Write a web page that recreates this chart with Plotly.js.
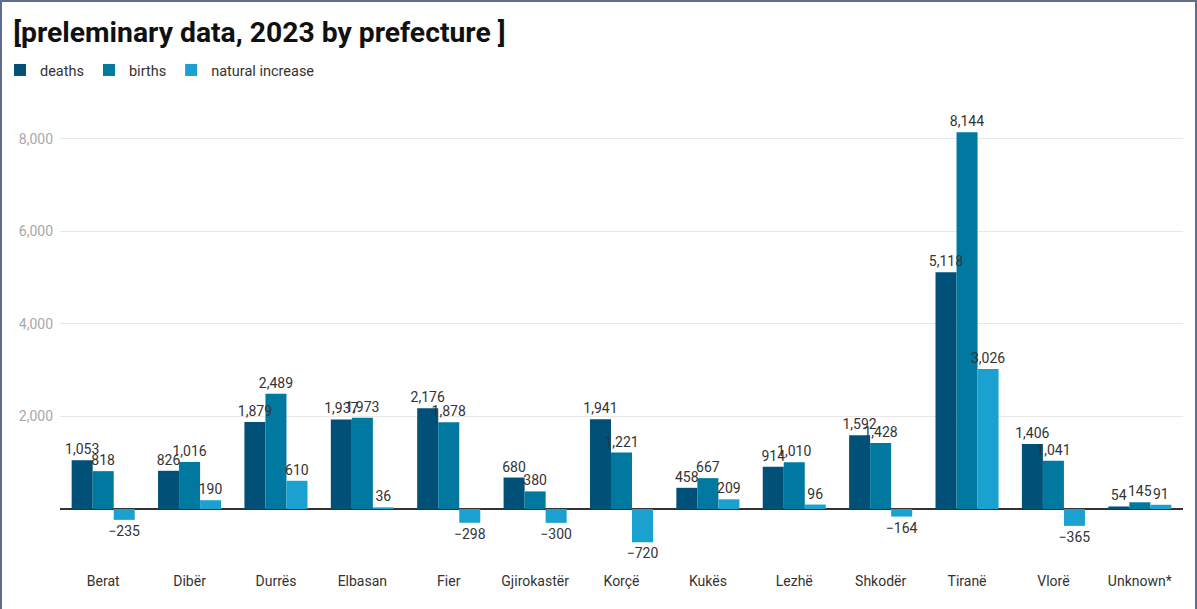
<!DOCTYPE html>
<html>
<head>
<meta charset="utf-8">
<script src="https://cdn.plot.ly/plotly-3.0.1.min.js"></script>
<style>
html,body{margin:0;padding:0;background:#fff;}
#frame{position:absolute;left:0;top:0;width:1197px;height:609px;box-sizing:border-box;border:2px solid #5d6d8a;border-bottom:none;}
#chart{position:absolute;left:0;top:0;width:1197px;height:609px;}
</style>
</head>
<body>
<div id="chart"></div>
<div id="frame"></div>
<script>
const categories = ["Berat","Dibër","Durrës","Elbasan","Fier","Gjirokastër","Korçë","Kukës","Lezhë","Shkodër","Tiranë","Vlorë","Unknown*"];
const deaths = [1053, 826, 1879, 1937, 2176, 680, 1941, 458, 914, 1592, 5118, 1406, 54];
const births = [818, 1016, 2489, 1973, 1878, 380, 1221, 667, 1010, 1428, 8144, 1041, 145];
const naturalIncrease = [-235, 190, 610, 36, -298, -300, -720, 209, 96, -164, 3026, -365, 91];
const yTicks = [2000, 4000, 6000, 8000];

function fmt(v){
  const s = Math.abs(v).toLocaleString('en-US');
  return v < 0 ? '\u2212' + s : s;
}
function barSeries(name, vals, color, grp){
  return {
    type:'bar', name:name, x:categories, y:vals, offsetgroup:grp,
    marker:{color:color}, hoverinfo:'x+y+name'
  };
}
function labelSeries(name, vals, grp){
  return {
    type:'bar', name:name, x:categories, y:vals, offsetgroup:grp, showlegend:false,
    marker:{color:'rgba(0,0,0,0)', line:{color:'rgba(0,0,0,0)', width:8}},
    text: vals.map(fmt), texttemplate:'%{text}', textposition:'outside',
    cliponaxis:false, constraintext:'none',
    textfont:{family:'Roboto, sans-serif', size:14, color:'#333'},
    hoverinfo:'skip'
  };
}
const data = [
  barSeries('deaths', deaths, '#005078', 'd'),
  barSeries('births', births, '#00789f', 'b'),
  barSeries('natural increase', naturalIncrease, '#1aa1cf', 'n'),
  labelSeries('deaths', deaths, 'd'),
  labelSeries('births', births, 'b'),
  labelSeries('natural increase', naturalIncrease, 'n')
];
const layout = {
  width:1197, height:609,
  margin:{l:60, r:14, t:90, b:44},
  paper_bgcolor:'#fff', plot_bgcolor:'#fff',
  font:{family:'Roboto, sans-serif', color:'#333'},
  title:{text:'<b>[preleminary data, 2023 by prefecture ]</b>', x:0.011, xanchor:'left', y:0.947, yanchor:'middle', yref:'container',
         font:{family:'Roboto, sans-serif', size:28.3, color:'#111'}},
  showlegend:true,
  legend:{orientation:'h', x:-0.055, xref:'paper', y:0.885, yref:'container', yanchor:'middle', xanchor:'left',
          font:{size:14.5, color:'#333'}, traceorder:'normal', itemwidth:30},
  barmode:'group', bargap:0.27, bargroupgap:0,
  uniformtext:{mode:'show', minsize:14},
  xaxis:{type:'category', showgrid:false, ticks:'', tickfont:{size:14, color:'#333'}, showline:false, zeroline:false, ticklabelstandoff:6},
  yaxis:{range:[-1211, 9059], tickvals:yTicks, ticktext:yTicks.map(v=>v.toLocaleString('en-US')), showgrid:true, gridcolor:'#e8e8e8', gridwidth:1,
         zeroline:true, zerolinecolor:'#333', zerolinewidth:1.5, tickfont:{size:14, color:'#a8a8a8'}, ticks:'', automargin:false, ticklabelstandoff:6}
};
Plotly.newPlot('chart', data, layout, {displayModeBar:false, staticPlot:true});
</script>
</body>
</html>
